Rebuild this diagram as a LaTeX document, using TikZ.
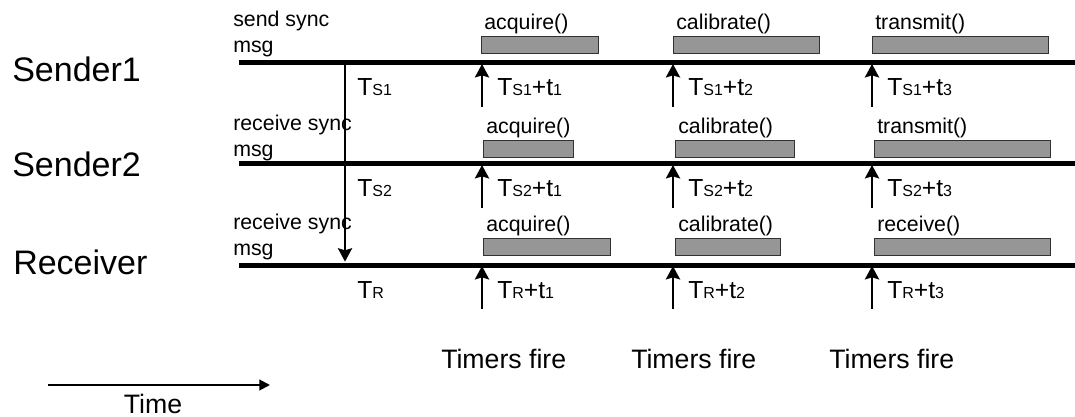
\documentclass[tikz,border=0pt]{standalone}
\usepackage{fontspec}
\setmainfont{Liberation Sans}
\usetikzlibrary{arrows.meta,
                positioning}
\definecolor{boxgray}{RGB}{150,150,150}
\definecolor{boxline}{RGB}{50,50,50}
\newcommand{\bigT}{\fontsize{18.5}{18.5}\selectfont}
\newcommand{\smallT}{\fontsize{12}{12}\selectfont}
\newcommand{\stamp}[2]{{\bigT T}{\smallT #1}{\bigT +t}{\smallT #2}}
\tikzset{timeline/.style={line width=3.75pt},
         arr/.style={line width=2pt,-{Stealth[length=10pt,width=10.5pt,inset=1.5pt]}},
         task/.style={draw=boxline,line width=1pt,fill=boxgray,anchor=north west,inner sep=0pt,minimum height=12.75pt},
         small/.style={font=\fontsize{16}{19.5}\selectfont,inner sep=0pt,anchor=base west},
         proc/.style={font=\fontsize{25.5}{25.5}\selectfont,inner sep=0pt,anchor=base west},
         label/.style={font=\fontsize{20}{20}\selectfont,inner sep=0pt,anchor=base west}}

\begin{document}
\begin{tikzpicture}[x=0.75pt,y=-0.75pt]
    \useasboundingbox (0,0) rectangle (1075,417);

    % processes
    \node[proc] (sender1) at (12,82) {Sender1};
    \node[proc] (sender2) at (12,177) {Sender2};
    \node[proc] (receiver) at (13,274) {Receiver};

    % sync messages (base = last line)
    \node[small,align=left] (msg1) at (233,53) {send sync\\msg};
    \node[small,align=left] (msg2) at (233,157) {receive sync\\msg};
    \node[small,align=left] (msg3) at (233,256) {receive sync\\msg};

    % tasks
    \foreach \n/\xa/\xb/\yt/\txt in {s1a/481/598/36/acquire(), s1b/673/819/36/calibrate(), s1c/872/1048/36/transmit(),
                                     s2a/483/573/140/acquire(), s2b/675/794/140/calibrate(), s2c/874/1050/140/transmit(),
                                     r3a/483/610/238/acquire(), r3b/675/780/238/calibrate(), r3c/874/1050/238/receive()}{
      \node[task,minimum width={(\xb-\xa)*0.75pt}] (\n) at (\xa,\yt) {};
      \node[small] (\n-lab) at (\xa+3,\yt-6) {\txt};
    }

    % time lines, timers
    \foreach \r/\y/\sub in {1/63/S1, 2/164/S2, 3/265/R}{
      \coordinate (l\r a) at (239,\y);
      \coordinate (l\r b) at (1075,\y);
      \draw[timeline] (l\r a) -- (l\r b);
      \node[anchor=base west,inner sep=0pt] (ts\r) at (357,\y+33) {{\bigT T}{\smallT \sub}};
      \foreach \c/\x in {1/482, 2/673, 3/872}{
        \coordinate (f\r\c) at (\x,\y+44);
        \coordinate (h\r\c) at (\x,\y+1);
        \draw[arr] (f\r\c) -- (h\r\c);
        \node[anchor=base west,inner sep=0pt] (t\r\c) at (\x+15,\y+33) {\stamp{\sub}{\c}};
      }
    }

    % sync message travels down
    \draw[arr] (l1a -| 345,0) -- ([yshift=2.5pt]l3a -| 345,0);

    \foreach \c/\x in {1/441, 2/631, 3/829}
      \node[label] (fire\c) at (\x,368) {Timers fire};

    \coordinate (time0) at (48,385);
    \coordinate (time1) at (270,385);
    \draw[line width=1.5pt,-{Triangle[length=8pt,width=8pt]}] (time0) -- (time1);
    \node[label,anchor=base] (time) at (153,413) {Time};
\end{tikzpicture}
\end{document}
